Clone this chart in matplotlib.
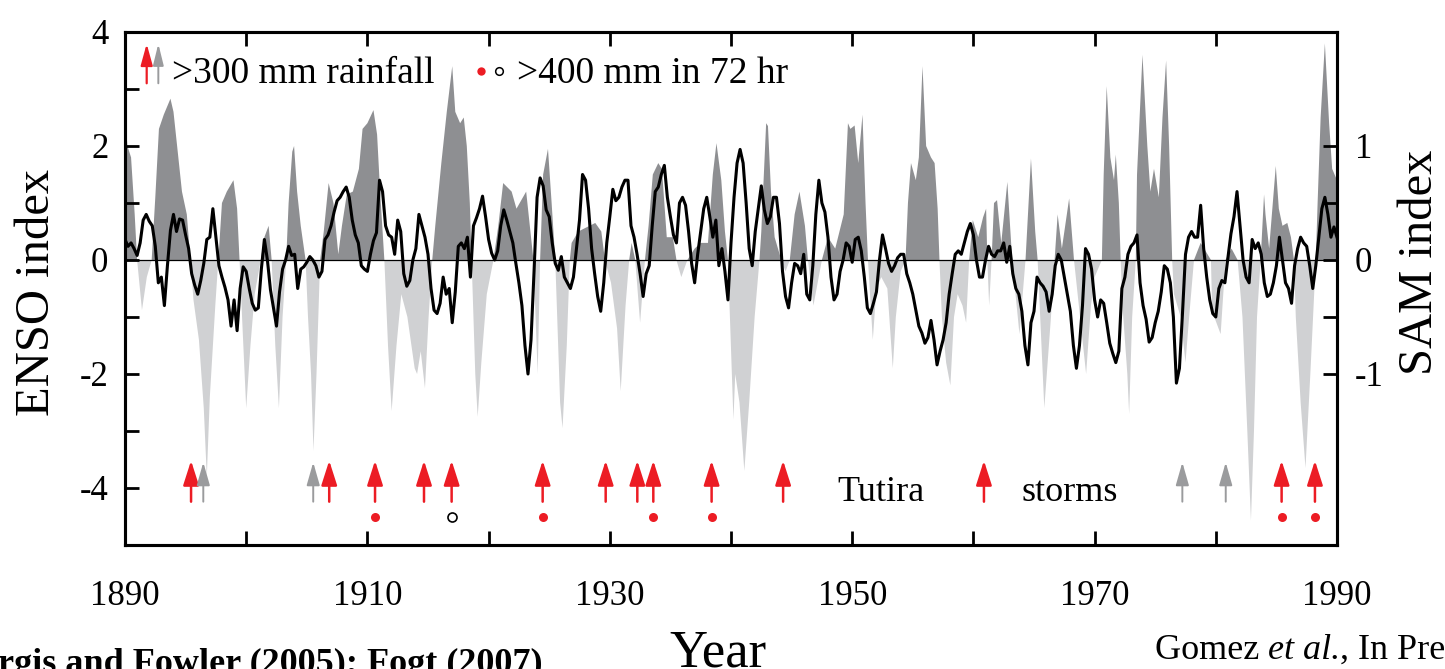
import matplotlib
matplotlib.use("Agg")
import matplotlib.pyplot as plt
import numpy as np

plt.rcParams["font.family"] = ["Liberation Serif", "DejaVu Serif"]
plt.rcParams["axes.unicode_minus"] = False

# ── ENSO index (turning points, year / value) ─────────────────────────
enso_years = [
    1890.0, 1890.2, 1890.5, 1890.8, 1891.0, 1891.4, 1891.8, 1892.2, 1892.5, 1892.8,
    1893.2, 1893.75, 1894.0, 1894.3, 1894.7, 1895.1, 1895.4, 1895.65, 1896.1, 1896.5,
    1896.75, 1897.0, 1897.45, 1897.7, 1898.0, 1898.4, 1898.95, 1899.25, 1899.45, 1899.7,
    1900.0, 1900.35, 1900.7, 1901.2, 1901.5, 1901.85, 1902.1, 1902.4, 1902.7, 1903.0,
    1903.3, 1903.5, 1903.8, 1903.95, 1904.2, 1904.5, 1904.9, 1905.1, 1905.35, 1905.55,
    1905.8, 1906.1, 1906.4, 1906.8, 1907.2, 1907.6, 1907.9, 1908.3, 1908.8, 1909.3, 1909.6,
    1910.0, 1910.5, 1910.8, 1911.05, 1911.4, 1911.7, 1912.0, 1912.4, 1912.8, 1913.3,
    1913.9, 1914.1, 1914.4, 1914.75, 1915.05, 1915.35, 1915.6, 1916.1, 1916.55, 1917.0,
    1917.25, 1917.65, 1917.95, 1918.2, 1918.45, 1918.6, 1918.9, 1919.1, 1919.4, 1919.85,
    1920.4, 1920.8, 1921.2, 1921.9, 1922.3, 1923.1, 1923.4, 1923.7, 1924.05, 1924.25,
    1924.5, 1924.9, 1925.2, 1925.5, 1925.9, 1926.1, 1926.45, 1926.7, 1926.85, 1927.4,
    1928.8, 1929.3, 1929.6,
    1930.1, 1930.6, 1930.9, 1931.3, 1931.6, 1931.8, 1932.1, 1932.5, 1932.9, 1933.2,
    1933.55, 1934.0, 1934.3, 1934.7, 1935.2, 1935.5, 1935.9, 1936.4, 1937.0, 1937.5,
    1938.1, 1938.5, 1938.8, 1939.2, 1939.5, 1939.75,
    1940.2, 1940.35, 1940.7, 1941.1, 1941.5, 1941.95, 1942.35, 1942.5, 1942.9, 1943.05,
    1943.3, 1943.6, 1944.15, 1944.5, 1944.85, 1945.25, 1945.65, 1946.1, 1946.35, 1946.8,
    1947.5, 1948.0, 1948.6, 1949.3, 1949.65, 1949.85,
    1950.2, 1950.5, 1950.85, 1951.1, 1951.3, 1951.7, 1952.0, 1952.4, 1952.9, 1953.35,
    1953.6, 1954.0, 1954.4, 1954.6, 1954.85, 1955.25, 1955.5, 1955.8, 1956.1, 1956.5,
    1956.8, 1957.05, 1957.2, 1957.4, 1957.75, 1958.1, 1958.4, 1958.7, 1959.1, 1959.4,
    1959.65, 1959.95,
    1960.4, 1960.8, 1961.05, 1961.15, 1961.3, 1961.5, 1961.7, 1961.95, 1962.3, 1962.8,
    1963.2, 1963.8, 1964.3, 1964.75, 1965.1, 1965.3, 1965.85, 1966.4, 1966.7, 1966.95,
    1967.3, 1967.9, 1968.3, 1968.8, 1969.3, 1969.7,
    1970.0, 1970.6, 1970.75, 1971.0, 1971.3, 1971.6, 1971.75, 1972.0, 1972.15, 1972.3,
    1972.7, 1972.85, 1973.1, 1973.4, 1973.5, 1973.95, 1974.35, 1974.6, 1974.9, 1975.3,
    1975.6, 1975.9, 1976.15, 1976.4, 1976.55, 1977.1, 1977.5, 1977.8, 1978.2, 1978.75,
    1979.6, 1979.7,
    1980.4, 1980.8, 1981.3, 1981.8, 1982.2, 1982.6, 1982.9, 1983.15, 1983.4, 1983.7,
    1983.98, 1984.1, 1984.4, 1984.95, 1985.2, 1985.5, 1985.9, 1986.2, 1986.45, 1986.6,
    1987.0, 1987.4, 1987.8, 1988.25, 1988.4, 1988.65, 1989.0, 1989.35, 1989.6, 1990.0,
]
enso_vals = [
    2.6, 2.0, 1.8, 0.8, 0.0, -0.88, -0.3, 0.0, 1.1, 2.3,
    2.55, 2.83, 2.6, 2.0, 1.2, 0.8, 0.0, -0.7, -1.4, -2.6,
    -3.8, -2.4, -0.8, 0.0, 1.0, 1.2, 1.4, 0.9, 0.0, -1.2,
    -2.6, -1.5, -0.6, 0.0, 0.4, 0.6, 0.0, -1.5, -2.6, -1.0,
    0.0, 1.0, 1.9, 2.0, 1.2, 0.6, 0.0, -1.0, -2.0, -3.35,
    -2.0, 0.0, 0.5, 1.35, 1.0, 0.1, 0.6, 1.15, 1.2, 1.6, 2.3,
    2.4, 2.63, 2.2, 1.2, 0.0, -1.5, -2.65, -1.5, -0.6, -1.0,
    -1.9, -2.0, -1.6, -2.25, -1.0, 0.0, 0.6, 1.7, 2.6, 3.4,
    2.6, 2.4, 2.5, 2.0, 1.0, 0.0, -2.0, -2.75, -1.8, -0.6,
    0.0, 0.6, 1.35, 1.2, 0.9, 1.2, 0.6, 0.0, -2.0, 0.0,
    1.5, 1.95, 1.0, 0.0, -2.5, -2.95, -1.5, 0.0, 0.3, 0.5,
    0.65, 0.5, 0.0,
    -0.4, -1.2, -2.3, -0.8, 0.0, 0.3, 0.0, -1.1, 0.0, 0.6,
    1.5, 1.7, 1.6, 0.4, 0.4, 0.0, -0.3, 0.0, 0.2, 0.3,
    0.3, 1.5, 2.05, 1.4, 0.5, 0.0,
    -2.8, -2.0, -2.5, -3.7, -2.5, -1.0, 0.0, 0.5, 2.4, 2.35,
    1.2, 0.4, 0.0, -0.2, 0.0, 0.8, 1.2, 0.6, 0.0, -0.8,
    0.0, 0.4, 0.2, 0.8, 2.4, 2.3,
    2.36, 1.7, 2.55, 1.0, 0.0, -1.4, -0.5, -0.3, -0.5, -1.9,
    -1.0, -0.2, 0.0, 1.0, 1.7, 1.4, 1.8, 3.4, 2.0, 1.8,
    1.7, 0.9, 0.0, -1.0, -1.8, -2.2, -1.0, -0.6, -0.8, -1.1,
    0.0, 0.7,
    0.4, 0.75, 0.9, 0.0, -0.8, 0.0, 1.0, 1.05, 0.3, 1.37,
    0.0, -1.3, 0.0, 1.78, 0.5, 0.0, -2.6, -1.0, 0.0, 0.8,
    0.2, 1.08, 0.0, -1.0, -2.0, -0.8,
    -0.3, 0.0, 1.5, 3.05, 1.8, 1.4, 1.85, 1.0, 0.0, -0.8,
    -2.0, -2.7, -1.0, 0.0, 1.5, 3.6, 2.0, 1.2, 1.6, 1.1,
    2.5, 3.5, 2.0, 0.0, -0.6, -1.0, -1.8, -1.0, 0.0, 0.3,
    0.0, -0.9,
    -1.3, 0.0, 0.2, 0.0, -1.0, -3.0, -4.57, -3.0, -1.0, 0.0,
    1.15, 0.8, 0.2, 1.65, 0.9, 0.6, 0.65, 0.4, 0.0, -1.0,
    -2.5, -3.65, -2.0, 0.0, 1.0, 2.5, 3.8, 2.4, 1.6, 1.4,
]

# ── SAM index, quarterly from 1890.0 ──────────────────────────────────
sam_start = 1890.0
sam_step = 0.25
sam_vals = [
    # 1890-1909
    .18, .12, .15, .10, .04, .15, .35, .40, .34, .30,
    .12, -.20, -.15, -.40, -.05, .26, .40, .25, .36, .35,
    .22, .10, -.12, -.22, -.30, -.18, -.03, .18, .20, .45,
    .20, -.05, -.15, -.24, -.35, -.58, -.35, -.62, -.25, -.06,
    -.10, -.25, -.38, -.44, -.42, -.08, .18, .00, -.26, -.42,
    -.58, -.28, -.08, .00, .12, .04, .05, -.25, -.08, -.06,
    -.02, .03, .00, -.05, -.15, -.10, .18, .22, .30, .42,
    .52, .55, .60, .64, .55, .35, .22, .15, -.05, -.08,
    # 1910-1929
    -.10, .05, .17, .24, .70, .60, .30, .22, .20, .05,
    .35, .25, -.12, -.23, -.18, .00, .10, .40, .30, .20,
    .05, -.25, -.44, -.47, -.38, -.15, -.30, -.25, -.55, -.28,
    .12, .15, .10, .20, -.15, .30, .37, .45, .56, .38,
    .18, .06, .00, .08, .30, .44, .35, .25, .15, -.03,
    -.20, -.40, -.75, -1.00, -.70, -.10, .55, .72, .65, .44,
    .38, .15, -.03, -.09, .03, -.15, -.20, -.25, -.15, .10,
    .35, .75, .70, .45, .10, -.12, -.32, -.45, -.20, .15,
    # 1930-1949
    .38, .62, .52, .55, .64, .70, .70, .30, .20, .05,
    -.12, -.32, -.12, -.05, .30, .60, .64, .75, .83, .55,
    .38, .22, .15, .50, .55, .48, .25, -.03, -.20, .05,
    .25, .45, .55, .38, .20, .35, -.05, .10, -.10, -.35,
    .15, .55, .85, .97, .85, .50, .10, -.05, .25, .45,
    .65, .44, .32, .38, .55, .55, .32, -.10, -.32, -.42,
    -.20, -.03, -.05, -.12, .05, -.30, -.35, -.05, .40, .70,
    .50, .42, .20, -.15, -.35, -.30, -.10, .00, .15, .12,
    # 1950-1969
    -.02, .18, .20, .08, -.15, -.42, -.47, -.38, -.28, .00,
    .22, .10, -.03, -.10, -.05, .02, .05, .05, -.12, -.20,
    -.30, -.44, -.58, -.64, -.73, -.68, -.53, -.70, -.92, -.80,
    -.70, -.55, -.30, -.12, .05, .08, .05, .15, .25, .32,
    .22, .00, -.15, -.15, .00, .12, .05, .03, .08, .08,
    .15, -.02, .12, -.12, -.25, -.30, -.45, -.75, -.92, -.55,
    -.45, -.15, -.20, -.23, -.28, -.45, -.30, -.05, .05, .00,
    -.15, -.30, -.45, -.75, -.95, -.75, -.40, .10, .05, -.08,
    # 1970-1990
    -.35, -.50, -.35, -.38, -.55, -.73, -.82, -.90, -.80, -.25,
    -.15, .05, .12, .15, .22, -.20, -.40, -.52, -.72, -.68,
    -.55, -.45, -.28, -.05, -.08, -.20, -.50, -1.08, -.95, -.47,
    .05, .20, .25, .20, .20, .48, .10, -.15, -.35, -.47,
    -.50, -.25, -.18, -.20, .02, .23, .38, .60, .30, .00,
    -.15, -.20, .18, .10, .15, .05, -.20, -.32, -.30, -.20,
    -.05, .20, .00, -.20, -.25, -.38, -.05, .10, .20, .15,
    .12, -.05, -.25, -.05, .20, .45, .55, .40, .20, .29,
    .20,
]

# ── Tutira storm years ───────────────────────────────────────────────
storm_red = [1895.45, 1906.85, 1910.63, 1914.67, 1916.95, 1924.46, 1929.66,
             1932.27, 1933.59, 1938.4, 1944.3, 1960.87, 1985.43, 1988.18]
storm_gray = [1896.46, 1905.53, 1977.24, 1980.82]
rain72_red = [1910.63, 1924.46, 1933.59, 1938.4, 1985.43, 1988.18]
rain72_open = [1916.95]

DARK = "#8e8f92"
LIGHT = "#d0d1d3"
RED = "#ec1c24"
GRAY = "#9a9b9d"

W, H = 1445, 669


def arrow(ax, x, y0, y1, color, lw, hl, hw, coords="data"):
    ax.annotate("", xy=(x, y1), xytext=(x, y0), xycoords=coords, textcoords=coords,
                arrowprops=dict(arrowstyle=f"-|>,head_length={hl},head_width={hw}",
                                color=color, lw=lw, shrinkA=0, shrinkB=0,
                                mutation_scale=20))


enso_x = np.array(enso_years)
enso_y = np.array(enso_vals)
assert len(enso_x) == len(enso_y)
sam_y = np.array(sam_vals)
sam_x = sam_start + sam_step * np.arange(len(sam_y))

fig = plt.figure(figsize=(W / 100, H / 100), dpi=100)
ax = fig.add_axes([125 / W, 1 - 545 / H, 1212 / W, 513 / H])

ax.fill_between(enso_x, enso_y, 0, where=enso_y >= 0, interpolate=True,
                color=DARK, lw=0)
ax.fill_between(enso_x, enso_y, 0, where=enso_y <= 0, interpolate=True,
                color=LIGHT, lw=0)
ax.axhline(0, color="black", lw=0.9)
ax.set_xlim(1890, 1990)
ax.set_ylim(-5, 4)

xt = np.arange(1890, 1991, 10)
ax.set_xticks(xt)
ax.set_xticklabels([str(v) if (v - 1890) % 20 == 0 else "" for v in xt])
yt = np.arange(-4, 5)
ax.set_yticks(yt)
ax.set_yticklabels([str(v) if v % 2 == 0 else "" for v in yt])
ax.tick_params(axis="x", direction="in", length=10, width=2, top=True,
               bottom=True, labelsize=25, pad=25)
ax.tick_params(axis="y", direction="in", length=10, width=2, left=True,
               right=False, labelsize=25, pad=12)

# SAM on its own scale
ax2 = ax.twinx()
ax2.plot(sam_x, sam_y, color="black", lw=2.2, solid_joinstyle="round")
ax2.set_ylim(-2.5, 2)
st = [-1, -0.5, 0, 0.5, 1]
ax2.set_yticks(st)
ax2.set_yticklabels(["-1", "", "0", "", "1"])
ax2.tick_params(axis="y", direction="in", length=10, width=2, labelsize=25, pad=13)

for a in (ax, ax2):
    for s in a.spines.values():
        s.set_linewidth(2.2)

# storm arrows and 72 hr markers
for yr in storm_red:
    arrow(ax, yr, -4.24, -3.52, RED, 1.8, 0.75, 0.24)
for yr in storm_gray:
    arrow(ax, yr, -4.24, -3.55, GRAY, 1.4, 0.7, 0.2)
ax.plot(rain72_red, [-4.5] * len(rain72_red), "o", color=RED, ms=6.5, mec="none")
ax.plot(rain72_open, [-4.5] * len(rain72_open), "o", mfc="white", mec="black",
        ms=6.5, mew=1.2)

ax.text(1948.8, -4.22, "Tutira", fontsize=26, va="baseline")
ax.text(1964.0, -4.22, "storms", fontsize=26, va="baseline")

# key
arrow(ax, 0.0179, 0.900, 0.977, RED, 1.6, 0.65, 0.18, coords="axes fraction")
arrow(ax, 0.0275, 0.900, 0.977, GRAY, 1.4, 0.65, 0.16, coords="axes fraction")
ax.text(0.0388, 0.900, ">300 mm rainfall", transform=ax.transAxes,
        fontsize=27, va="baseline")
ax.plot([0.2935], [0.924], "o", color=RED, ms=6, mec="none",
        transform=ax.transAxes, clip_on=False)
ax.plot([0.3086], [0.924], "o", mfc="white", mec="black", ms=5.5, mew=1.1,
        transform=ax.transAxes, clip_on=False)
ax.text(0.3234, 0.900, ">400 mm in 72 hr", transform=ax.transAxes,
        fontsize=27, va="baseline")

# axis titles
fig.text(37 / W, 1 - 292 / H, "ENSO index", rotation=90, fontsize=35,
         ha="center", va="center")
fig.text(1420 / W, 1 - 262 / H, "SAM index", rotation=90, fontsize=35,
         ha="center", va="center")
fig.text(718 / W, 0.003, "Year", fontsize=38, ha="center", va="baseline")

# sources
fig.text(-2 / W, -0.006, "rgis and Fowler (2005); Fogt (2007)", fontsize=26,
         fontweight="bold", va="baseline")
renderer = fig.canvas.get_renderer()
x0 = 1155 / W
for part, style in (("Gomez ", "normal"), ("et al.", "italic"), (", In Press", "normal")):
    t = fig.text(x0, 0.015, part, fontsize=26, style=style, va="baseline")
    bb = t.get_window_extent(renderer)
    x0 = bb.x1 / fig.bbox.width

fig.savefig("out.png", dpi=100)
